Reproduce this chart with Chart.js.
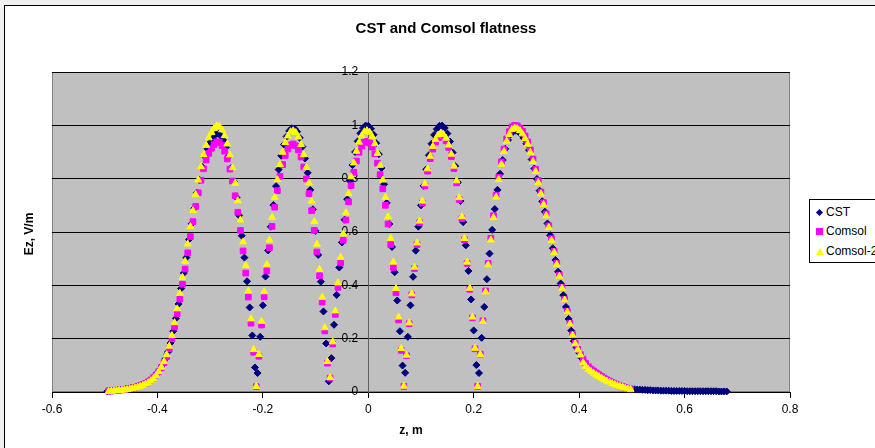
<!DOCTYPE html>
<html>
<head>
<meta charset="utf-8">
<script src="https://cdn.jsdelivr.net/npm/chart.js@4.4.0/dist/chart.umd.min.js"></script>
<style>
  html, body { margin: 0; padding: 0; width: 875px; height: 448px; overflow: hidden; background: #f0f0f0; }
  #frame { position: absolute; left: 4px; top: 5px; width: 900px; height: 460px; background: #fff; border: 1px solid #000; }
  #c { position: absolute; left: 0; top: 0; }
  #legend { position: absolute; left: 809px; top: 199px; width: 90px; height: 62px; background: #fff; border: 1px solid #000;
            font: 12px "Liberation Sans", Arial, sans-serif; color: #000; }
  .item { position: absolute; left: 6px; height: 14px; line-height: 14px; white-space: nowrap; }
  .mk { display: inline-block; vertical-align: middle; margin-right: 3px; }
  .mk.diamond { width: 5px; height: 5px; background: #000080; transform: rotate(45deg); margin-left: 1px; margin-right: 4px; }
  .mk.square { width: 7px; height: 7px; background: #ff00ff; }
  .mk.triangle { width: 0; height: 0; border-left: 4px solid transparent; border-right: 4px solid transparent; border-bottom: 7px solid #ffff00; margin-right: 2px; }
</style>
</head>
<body>
<div id="frame"></div>
<canvas id="c" width="875" height="448"></canvas>
<div id="legend">
  <div class="item" style="top:5px"><span class="mk diamond"></span>CST</div>
  <div class="item" style="top:24px"><span class="mk square"></span>Comsol</div>
  <div class="item" style="top:44px"><span class="mk triangle"></span>Comsol-2D</div>
</div>
<script>
// 軸の範囲と目盛
const xTicks = { min: -0.6, max: 0.8, step: 0.2 };
const yTicks = { min: 0, max: 1.2, step: 0.2 };

// CST: z [m]
const cstZ = [
  -0.495, -0.49, -0.485, -0.48, -0.475, -0.47, -0.465, -0.46, -0.455, -0.45,
  -0.445, -0.44, -0.435, -0.43, -0.425, -0.42, -0.415, -0.41, -0.405, -0.4,
  -0.395, -0.39, -0.385, -0.38, -0.375, -0.37, -0.365, -0.36, -0.355, -0.35,
  -0.345, -0.34, -0.335, -0.33, -0.325, -0.32, -0.315, -0.31, -0.305, -0.3,
  -0.295, -0.29, -0.285, -0.28, -0.275, -0.27, -0.265, -0.26, -0.255, -0.25,
  -0.245, -0.24, -0.235, -0.23, -0.225, -0.22, -0.215, -0.21, -0.205, -0.2,
  -0.195, -0.19, -0.185, -0.18, -0.175, -0.17, -0.165, -0.16, -0.155, -0.15,
  -0.145, -0.14, -0.135, -0.13, -0.125, -0.12, -0.115, -0.11, -0.105, -0.1,
  -0.095, -0.09, -0.085, -0.08, -0.075, -0.07, -0.065, -0.06, -0.055, -0.05,
  -0.045, -0.04, -0.035, -0.03, -0.025, -0.02, -0.015, -0.01, -0.005, 0,
  0.005, 0.01, 0.015, 0.02, 0.025, 0.03, 0.035, 0.04, 0.045, 0.05,
  0.055, 0.06, 0.065, 0.07, 0.075, 0.08, 0.085, 0.09, 0.095, 0.1,
  0.105, 0.11, 0.115, 0.12, 0.125, 0.13, 0.135, 0.14, 0.145, 0.15,
  0.155, 0.16, 0.165, 0.17, 0.175, 0.18, 0.185, 0.19, 0.195, 0.2,
  0.205, 0.21, 0.215, 0.22, 0.225, 0.23, 0.235, 0.24, 0.245, 0.25,
  0.255, 0.26, 0.265, 0.27, 0.275, 0.28, 0.285, 0.29, 0.295, 0.3,
  0.305, 0.31, 0.315, 0.32, 0.325, 0.33, 0.335, 0.34, 0.345, 0.35,
  0.355, 0.36, 0.365, 0.37, 0.375, 0.38, 0.385, 0.39, 0.395, 0.4,
  0.405, 0.41, 0.415, 0.42, 0.425, 0.43, 0.435, 0.44, 0.445, 0.45,
  0.455, 0.46, 0.465, 0.47, 0.475, 0.48, 0.485, 0.49, 0.495, 0.5,
  0.505, 0.51, 0.515, 0.52, 0.525, 0.53, 0.535, 0.54, 0.545, 0.55,
  0.555, 0.56, 0.565, 0.57, 0.575, 0.58, 0.585, 0.59, 0.595, 0.6,
  0.605, 0.61, 0.615, 0.62, 0.625, 0.63, 0.635, 0.64, 0.645, 0.65,
  0.655, 0.66, 0.665, 0.67, 0.675, 0.68
];

// CST: Ez [V/m]
const cstEz = [
  0.003, 0.004, 0.005, 0.006, 0.007, 0.008, 0.009, 0.011, 0.013, 0.015,
  0.016, 0.019, 0.022, 0.026, 0.031, 0.036, 0.043, 0.050, 0.060, 0.072,
  0.085, 0.102, 0.124, 0.150, 0.184, 0.228, 0.276, 0.330, 0.388, 0.446,
  0.504, 0.572, 0.631, 0.689, 0.747, 0.795, 0.844, 0.883, 0.912, 0.936,
  0.951, 0.965, 0.969, 0.961, 0.944, 0.918, 0.884, 0.840, 0.789, 0.729,
  0.662, 0.586, 0.504, 0.415, 0.317, 0.212, 0.092, 0.071, 0.207, 0.325,
  0.433, 0.531, 0.620, 0.701, 0.772, 0.834, 0.886, 0.928, 0.958, 0.979,
  0.989, 0.988, 0.976, 0.953, 0.920, 0.876, 0.822, 0.758, 0.685, 0.604,
  0.514, 0.414, 0.302, 0.182, 0.040, 0.127, 0.252, 0.364, 0.467, 0.561,
  0.646, 0.723, 0.792, 0.851, 0.900, 0.940, 0.970, 0.990, 0.999, 0.998,
  0.987, 0.965, 0.933, 0.892, 0.840, 0.779, 0.709, 0.630, 0.544, 0.449,
  0.343, 0.228, 0.099, 0.072, 0.207, 0.325, 0.432, 0.530, 0.620, 0.700,
  0.773, 0.835, 0.888, 0.931, 0.964, 0.986, 0.998, 0.999, 0.990, 0.969,
  0.939, 0.898, 0.847, 0.786, 0.716, 0.637, 0.550, 0.454, 0.347, 0.231,
  0.101, 0.071, 0.203, 0.319, 0.423, 0.519, 0.608, 0.686, 0.758, 0.818,
  0.870, 0.912, 0.945, 0.966, 0.978, 0.980, 0.975, 0.965, 0.951, 0.931,
  0.907, 0.872, 0.838, 0.799, 0.755, 0.715, 0.676, 0.632, 0.588, 0.539,
  0.495, 0.451, 0.407, 0.363, 0.319, 0.274, 0.230, 0.191, 0.167, 0.147,
  0.127, 0.113, 0.098, 0.088, 0.080, 0.074, 0.067, 0.060, 0.054, 0.048,
  0.042, 0.037, 0.032, 0.028, 0.025, 0.021, 0.018, 0.015, 0.012, 0.010,
  0.010, 0.009, 0.009, 0.008, 0.008, 0.007, 0.007, 0.006, 0.006, 0.006,
  0.005, 0.005, 0.005, 0.005, 0.004, 0.004, 0.004, 0.004, 0.004, 0.004,
  0.003, 0.003, 0.003, 0.003, 0.003, 0.003, 0.003, 0.003, 0.003, 0.003,
  0.003, 0.003, 0.002, 0.002, 0.002, 0.002
];

// Comsol / Comsol-2D: z [m]
const comsolZ = [
  -0.4925, -0.4875, -0.4825, -0.4775, -0.4725, -0.4675, -0.4625, -0.4575, -0.4525, -0.4475,
  -0.4425, -0.4375, -0.4325, -0.4275, -0.4225, -0.4175, -0.4125, -0.4075, -0.4025, -0.3975,
  -0.3925, -0.3875, -0.3825, -0.3775, -0.3725, -0.3675, -0.3625, -0.3575, -0.3525, -0.3475,
  -0.3425, -0.3375, -0.3325, -0.3275, -0.3225, -0.3175, -0.3125, -0.3075, -0.3025, -0.2975,
  -0.2925, -0.2875, -0.2825, -0.2775, -0.2725, -0.2675, -0.2625, -0.2575, -0.2525, -0.2475,
  -0.2425, -0.2375, -0.2325, -0.2275, -0.2225, -0.2175, -0.2125, -0.2075, -0.2025, -0.1975,
  -0.1925, -0.1875, -0.1825, -0.1775, -0.1725, -0.1675, -0.1625, -0.1575, -0.1525, -0.1475,
  -0.1425, -0.1375, -0.1325, -0.1275, -0.1225, -0.1175, -0.1125, -0.1075, -0.1025, -0.0975,
  -0.0925, -0.0875, -0.0825, -0.0775, -0.0725, -0.0675, -0.0625, -0.0575, -0.0525, -0.0475,
  -0.0425, -0.0375, -0.0325, -0.0275, -0.0225, -0.0175, -0.0125, -0.0075, -0.0025, 0.0025,
  0.0075, 0.0125, 0.0175, 0.0225, 0.0275, 0.0325, 0.0375, 0.0425, 0.0475, 0.0525,
  0.0575, 0.0625, 0.0675, 0.0725, 0.0775, 0.0825, 0.0875, 0.0925, 0.0975, 0.1025,
  0.1075, 0.1125, 0.1175, 0.1225, 0.1275, 0.1325, 0.1375, 0.1425, 0.1475, 0.1525,
  0.1575, 0.1625, 0.1675, 0.1725, 0.1775, 0.1825, 0.1875, 0.1925, 0.1975, 0.2025,
  0.2075, 0.2125, 0.2175, 0.2225, 0.2275, 0.2325, 0.2375, 0.2425, 0.2475, 0.2525,
  0.2575, 0.2625, 0.2675, 0.2725, 0.2775, 0.2825, 0.2875, 0.2925, 0.2975, 0.3025,
  0.3075, 0.3125, 0.3175, 0.3225, 0.3275, 0.3325, 0.3375, 0.3425, 0.3475, 0.3525,
  0.3575, 0.3625, 0.3675, 0.3725, 0.3775, 0.3825, 0.3875, 0.3925, 0.3975, 0.4025,
  0.4075, 0.4125, 0.4175, 0.4225, 0.4275, 0.4325, 0.4375, 0.4425, 0.4475, 0.4525,
  0.4575, 0.4625, 0.4675, 0.4725, 0.4775, 0.4825, 0.4875, 0.4925, 0.4975
];

// Comsol: Ez [V/m]
const comsolEz = [
  0.003, 0.004, 0.005, 0.006, 0.007, 0.008, 0.009, 0.011, 0.013, 0.015,
  0.017, 0.020, 0.024, 0.028, 0.032, 0.038, 0.045, 0.054, 0.064, 0.076,
  0.091, 0.110, 0.133, 0.162, 0.200, 0.244, 0.294, 0.348, 0.404, 0.461,
  0.522, 0.583, 0.639, 0.696, 0.747, 0.794, 0.837, 0.870, 0.895, 0.914,
  0.928, 0.938, 0.936, 0.924, 0.903, 0.874, 0.836, 0.791, 0.736, 0.674,
  0.606, 0.529, 0.446, 0.356, 0.258, 0.149, 0.020, 0.134, 0.251, 0.357,
  0.454, 0.541, 0.621, 0.693, 0.755, 0.809, 0.853, 0.887, 0.911, 0.926,
  0.930, 0.923, 0.908, 0.881, 0.844, 0.799, 0.744, 0.680, 0.606, 0.525,
  0.436, 0.337, 0.229, 0.108, 0.052, 0.180, 0.291, 0.392, 0.484, 0.569,
  0.645, 0.713, 0.774, 0.824, 0.866, 0.899, 0.922, 0.936, 0.940, 0.934,
  0.918, 0.893, 0.858, 0.815, 0.762, 0.700, 0.630, 0.553, 0.467, 0.372,
  0.270, 0.156, 0.021, 0.136, 0.256, 0.364, 0.463, 0.553, 0.635, 0.708,
  0.773, 0.828, 0.875, 0.911, 0.937, 0.954, 0.960, 0.956, 0.942, 0.917,
  0.883, 0.838, 0.784, 0.722, 0.650, 0.570, 0.482, 0.385, 0.278, 0.162,
  0.021, 0.142, 0.267, 0.379, 0.482, 0.576, 0.661, 0.738, 0.805, 0.863,
  0.911, 0.949, 0.976, 0.994, 1.000, 0.998, 0.990, 0.978, 0.960, 0.938,
  0.908, 0.873, 0.835, 0.793, 0.750, 0.710, 0.668, 0.623, 0.575, 0.528,
  0.483, 0.438, 0.393, 0.348, 0.303, 0.258, 0.215, 0.183, 0.160, 0.140,
  0.123, 0.108, 0.095, 0.086, 0.079, 0.072, 0.065, 0.058, 0.052, 0.046,
  0.041, 0.036, 0.031, 0.027, 0.023, 0.020, 0.017, 0.014, 0.011
];

// Comsol-2D: Ez [V/m]
const comsol2Ez = [
  0.002, 0.003, 0.004, 0.005, 0.006, 0.007, 0.008, 0.009, 0.011, 0.013,
  0.015, 0.018, 0.021, 0.025, 0.030, 0.035, 0.042, 0.051, 0.062, 0.076,
  0.093, 0.114, 0.140, 0.172, 0.212, 0.260, 0.312, 0.370, 0.430, 0.490,
  0.555, 0.620, 0.680, 0.740, 0.795, 0.845, 0.890, 0.925, 0.953, 0.973,
  0.988, 0.998, 0.996, 0.983, 0.961, 0.930, 0.889, 0.841, 0.783, 0.717,
  0.645, 0.563, 0.474, 0.379, 0.274, 0.159, 0.021, 0.141, 0.265, 0.376,
  0.478, 0.570, 0.655, 0.730, 0.796, 0.853, 0.899, 0.935, 0.960, 0.976,
  0.980, 0.973, 0.956, 0.928, 0.890, 0.842, 0.784, 0.716, 0.639, 0.554,
  0.460, 0.355, 0.241, 0.114, 0.054, 0.188, 0.304, 0.409, 0.505, 0.593,
  0.672, 0.744, 0.807, 0.859, 0.903, 0.937, 0.961, 0.976, 0.980, 0.974,
  0.957, 0.931, 0.895, 0.850, 0.795, 0.730, 0.657, 0.576, 0.487, 0.388,
  0.281, 0.163, 0.022, 0.138, 0.259, 0.368, 0.468, 0.559, 0.641, 0.716,
  0.781, 0.837, 0.884, 0.921, 0.947, 0.964, 0.970, 0.966, 0.952, 0.926,
  0.892, 0.847, 0.792, 0.729, 0.657, 0.576, 0.487, 0.389, 0.281, 0.164,
  0.021, 0.141, 0.264, 0.375, 0.477, 0.570, 0.654, 0.731, 0.797, 0.854,
  0.902, 0.940, 0.966, 0.984, 0.990, 0.988, 0.980, 0.968, 0.950, 0.929,
  0.899, 0.864, 0.827, 0.785, 0.743, 0.703, 0.661, 0.617, 0.569, 0.523,
  0.478, 0.434, 0.389, 0.345, 0.300, 0.255, 0.213, 0.181, 0.158, 0.139,
  0.110, 0.096, 0.085, 0.077, 0.070, 0.064, 0.058, 0.052, 0.046, 0.041,
  0.037, 0.032, 0.028, 0.024, 0.021, 0.018, 0.015, 0.012, 0.010
];

const FONT = '"Liberation Sans", Arial, sans-serif';

function toPoints(xs, ys) {
  return ys.map((y, i) => ({ x: xs[i], y: y }));
}

// 目盛ラベル：Excel と同じく "1" / "0" は小数点なし
const tickLabel = (v) => String(Math.round(v * 10) / 10);

// プロットエリアの背景・枠とタイトル類
const excelFrame = {
  id: 'excelFrame',
  beforeDraw(chart) {
    const { ctx, chartArea: a } = chart;
    ctx.save();
    ctx.fillStyle = '#c0c0c0';
    ctx.fillRect(a.left, a.top, a.right - a.left, a.bottom - a.top);
    ctx.strokeStyle = '#808080';
    ctx.lineWidth = 1;
    ctx.strokeRect(a.left + 0.5, a.top + 0.5, a.right - a.left - 1, a.bottom - a.top - 1);
    ctx.restore();
  },
  afterDraw(chart) {
    const { ctx } = chart;
    ctx.save();
    ctx.fillStyle = '#000';
    ctx.textAlign = 'center';
    ctx.textBaseline = 'middle';
    ctx.font = 'bold 15px ' + FONT;
    ctx.fillText('CST and Comsol flatness', 446, 29);
    ctx.font = 'bold 12px ' + FONT;
    ctx.fillText('z, m', 411, 431);
    ctx.translate(30, 234);
    ctx.rotate(-Math.PI / 2);
    ctx.fillText('Ez, V/m', 0, 0);
    ctx.restore();
  }
};

const markerBase = { pointBorderWidth: 1, clip: false, showLine: false };
const tickFont = { family: FONT, size: 12 };

new Chart(document.getElementById('c'), {
  type: 'scatter',
  data: {
    datasets: [
      { ...markerBase, label: 'CST', data: toPoints(cstZ, cstEz), order: 3,
        pointStyle: 'rectRot', pointRadius: 3.5, backgroundColor: '#000080', borderColor: '#000080' },
      { ...markerBase, label: 'Comsol', data: toPoints(comsolZ, comsolEz), order: 2,
        pointStyle: 'rect', pointRadius: 4, backgroundColor: '#ff00ff', borderColor: '#ff00ff' },
      { ...markerBase, label: 'Comsol-2D', data: toPoints(comsolZ, comsol2Ez), order: 1,
        pointStyle: 'triangle', pointRadius: 4, backgroundColor: '#ffff00', borderColor: '#ffff00' }
    ]
  },
  options: {
    responsive: false,
    animation: false,
    events: [],
    layout: { padding: { left: 52, top: 72, right: 85, bottom: 56 } },
    plugins: { legend: { display: false }, tooltip: { enabled: false } },
    scales: {
      x: {
        type: 'linear',
        position: { y: 0 },
        min: xTicks.min, max: xTicks.max,
        afterFit: (s) => { s.height = 0; },
        ticks: { stepSize: xTicks.step, color: '#000', font: tickFont, padding: 5, maxRotation: 0, callback: tickLabel },
        grid: { drawOnChartArea: false, color: '#000', tickLength: 5 },
        border: { color: '#000', width: 1 }
      },
      // 縦軸（z = 0 の位置）：線・目盛・横グリッド
      y: {
        type: 'linear',
        position: { x: 0 },
        min: yTicks.min, max: yTicks.max,
        afterFit: (s) => { s.width = 0; },
        ticks: { stepSize: yTicks.step, display: false },
        grid: { color: '#000', tickLength: 4 },
        border: { color: '#606060', width: 1 }
      },
      // 縦軸の目盛ラベル（軸線から少し左へ）
      yText: {
        axis: 'y',
        type: 'linear',
        position: { x: -0.019 },
        min: yTicks.min, max: yTicks.max,
        afterFit: (s) => { s.width = 0; },
        ticks: { stepSize: yTicks.step, color: '#000', font: tickFont, callback: tickLabel },
        grid: { display: false },
        border: { display: false }
      }
    }
  },
  plugins: [excelFrame]
});
</script>
</body>
</html>
